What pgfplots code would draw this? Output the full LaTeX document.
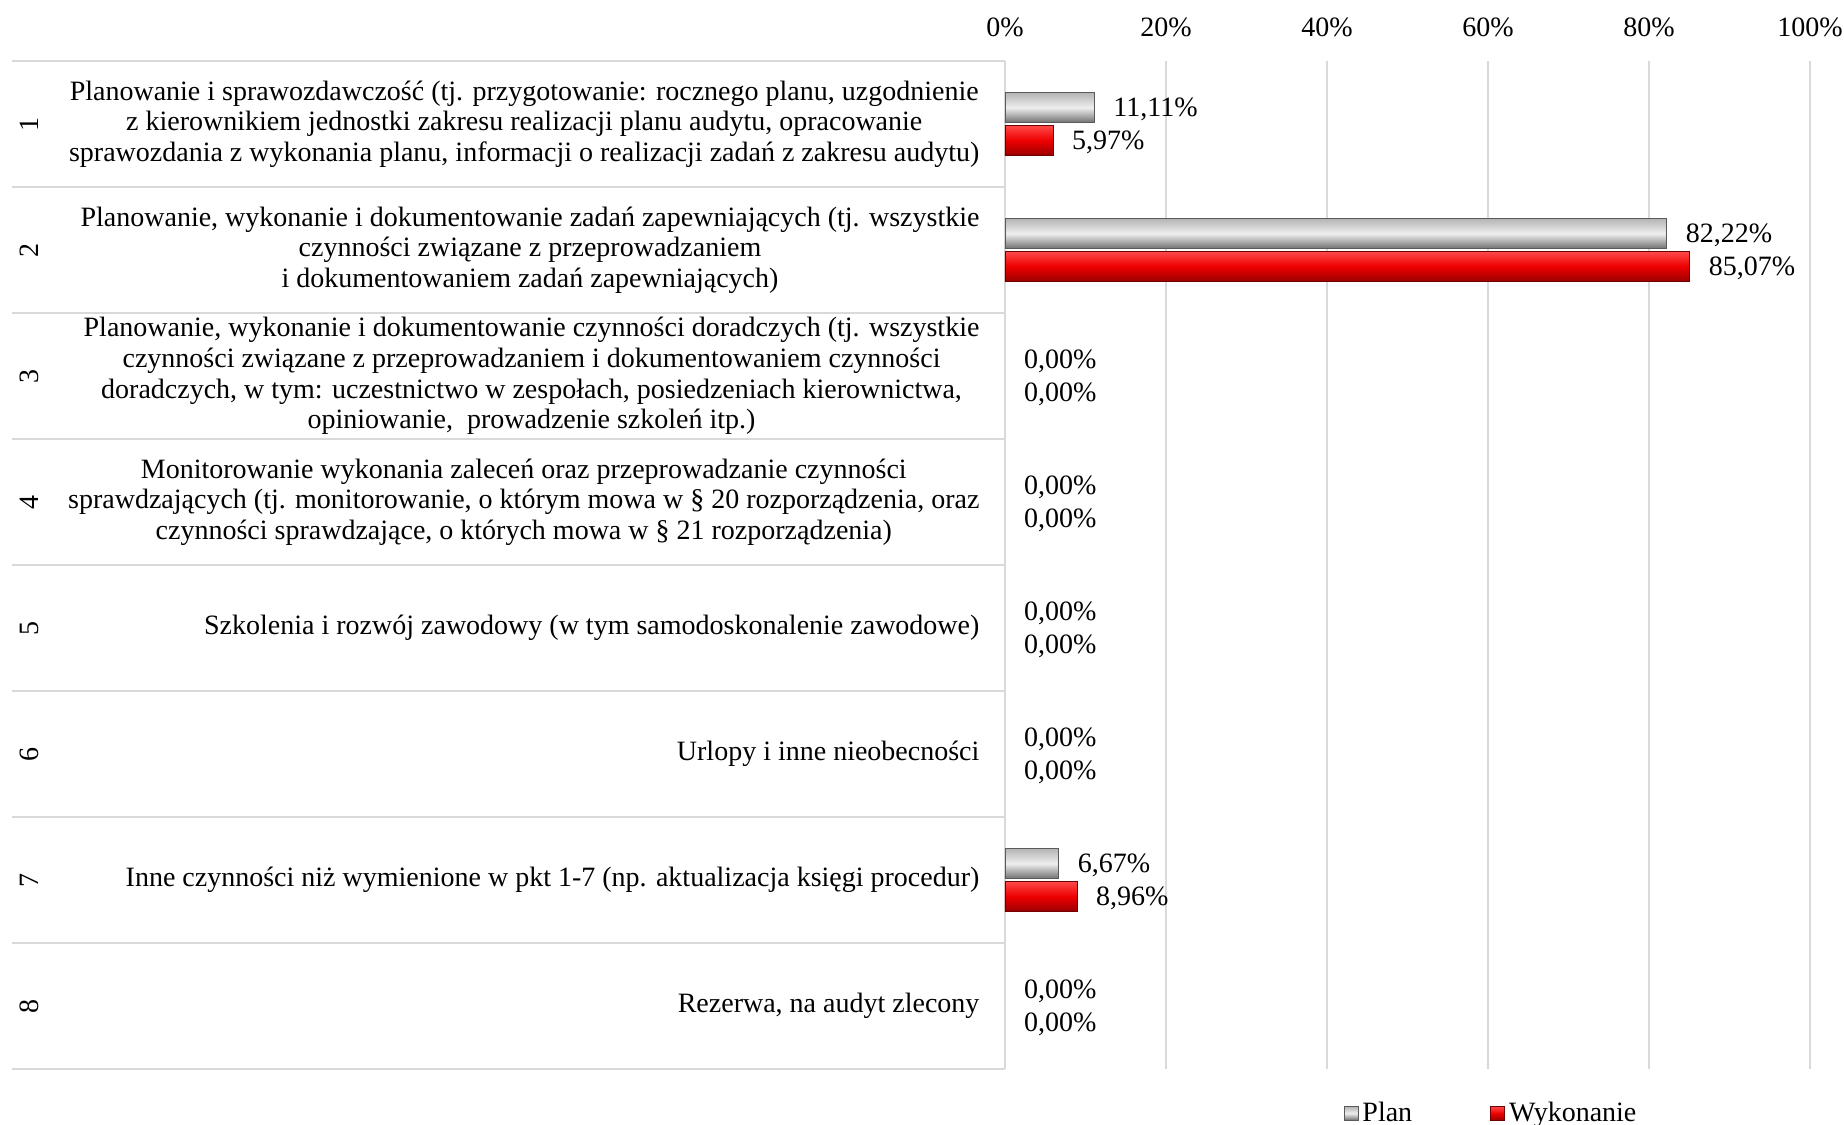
\documentclass[border=0pt]{standalone}
\usepackage{fontspec}
\setmainfont{Liberation Serif}
\usepackage{pgfplots}
\pgfplotsset{compat=1.18}
\usetikzlibrary{shadings}
\definecolor{gridc}{HTML}{D9D9D9}
\definecolor{planT}{HTML}{B4B4B4}
\definecolor{planM}{HTML}{EEEEEE}
\definecolor{planB}{HTML}{6E6E6E}
\definecolor{planD}{HTML}{5A5A5A}
\definecolor{wykT}{HTML}{FF4A4A}
\definecolor{wykM}{HTML}{EE0000}
\definecolor{wykB}{HTML}{9A0000}
\definecolor{wykD}{HTML}{700000}
\newcommand\fs{\fontsize{14}{15.3}\selectfont}
\begin{document}
\begin{tikzpicture}
\path[use as bounding box] (0,0) rectangle (922pt,562.5pt);
\begin{axis}[
  at={(502.5pt,28pt)}, anchor=south west,
  scale only axis, width=402.5pt, height=504pt,
  xmin=0, xmax=100, ymin=0.5, ymax=8.5, y dir=reverse,
  xbar, bar width=0.24,
  axis line style={draw=none},
  xtick={0,20,40,60,80,100},
  xticklabels={0\%,20\%,40\%,60\%,80\%,100\%},
  xticklabel pos=upper,
  ytick=\empty,
  major tick length=0pt,
  xmajorgrids, major grid style={gridc, line width=0.8pt},
  tick label style={font=\fs},
  xticklabel style={yshift=8.5pt},
  clip=false,
  nodes near coords, point meta=explicit symbolic,
  every node near coord/.append style={font=\fs, anchor=west, xshift=6pt, yshift=-1pt, text=black},
  legend style={at={(0.605,-0.044)}, anchor=center, draw=none, font=\fs,
    legend columns=2, /tikz/every even column/.append style={column sep=37pt}},
  legend image code/.code={\draw[#1] (0pt,-3.5pt) rectangle (7pt,3.5pt);},
  plan/.style={draw=planD, line width=0.4pt, top color=planT, bottom color=planB, middle color=planM, bar shift=-0.13},
  wyk/.style={draw=wykD, line width=0.4pt, top color=wykT, bottom color=wykB, middle color=wykM, bar shift=0.13},
]
\addplot[plan] coordinates {(11.11,1)[11,11\%]};
\addlegendentry{Plan}
\addplot[wyk] coordinates {(5.97,1)[5,97\%]};
\addlegendentry{Wykonanie}
\addplot[plan, forget plot] coordinates {(82.22,2)[82,22\%]};
\addplot[wyk, forget plot] coordinates {(85.07,2)[85,07\%]};
\addplot[plan, forget plot] coordinates {(6.67,7)[6,67\%]};
\addplot[wyk, forget plot] coordinates {(8.96,7)[8,96\%]};
\addplot[draw=none, fill=none, bar shift=-0.13, forget plot]
  coordinates {(0,3)[0,00\%] (0,4)[0,00\%] (0,5)[0,00\%] (0,6)[0,00\%] (0,8)[0,00\%]};
\addplot[draw=none, fill=none, bar shift=0.13, forget plot]
  coordinates {(0,3)[0,00\%] (0,4)[0,00\%] (0,5)[0,00\%] (0,6)[0,00\%] (0,8)[0,00\%]};
\pgfplotsinvokeforeach{0.5,1.5,2.5,3.5,4.5,5.5,6.5,7.5,8.5}{
  \draw[gridc, line width=1pt] (axis cs:-123.35,#1) -- (axis cs:0,#1);
}
\pgfplotsinvokeforeach{1,...,8}{
  \node[rotate=90, font=\fs] at (axis cs:-121.2,#1) {#1};
}
\node[anchor=east, align=center, font=\fs] at (axis cs:-2.3,1) {Planowanie i sprawozdawczość (tj. przygotowanie: rocznego planu, uzgodnienie\\ z kierownikiem jednostki zakresu realizacji planu audytu, opracowanie\\ sprawozdania z wykonania planu, informacji o realizacji zadań z zakresu audytu)};
\node[anchor=east, align=center, font=\fs] at (axis cs:-2.3,2) {Planowanie, wykonanie i dokumentowanie zadań zapewniających (tj. wszystkie\\ czynności związane z przeprowadzaniem\\ i dokumentowaniem zadań zapewniających)};
\node[anchor=east, align=center, font=\fs] at (axis cs:-2.3,3) {Planowanie, wykonanie i dokumentowanie czynności doradczych (tj. wszystkie\\ czynności związane z przeprowadzaniem i dokumentowaniem czynności\\ doradczych, w tym: uczestnictwo w zespołach, posiedzeniach kierownictwa,\\ opiniowanie,\ \ prowadzenie szkoleń itp.)};
\node[anchor=east, align=center, font=\fs] at (axis cs:-2.3,4) {Monitorowanie wykonania zaleceń oraz przeprowadzanie czynności\\ sprawdzających (tj. monitorowanie, o którym mowa w § 20 rozporządzenia, oraz\\ czynności sprawdzające, o których mowa w § 21 rozporządzenia)};
\node[anchor=east, align=center, font=\fs] at (axis cs:-2.3,5) {Szkolenia i rozwój zawodowy (w tym samodoskonalenie zawodowe)};
\node[anchor=east, align=center, font=\fs] at (axis cs:-2.3,6) {Urlopy i inne nieobecności};
\node[anchor=east, align=center, font=\fs] at (axis cs:-2.3,7) {Inne czynności niż wymienione w pkt 1-7 (np. aktualizacja księgi procedur)};
\node[anchor=east, align=center, font=\fs] at (axis cs:-2.3,8) {Rezerwa, na audyt zlecony};
\end{axis}
\end{tikzpicture}
\end{document}
